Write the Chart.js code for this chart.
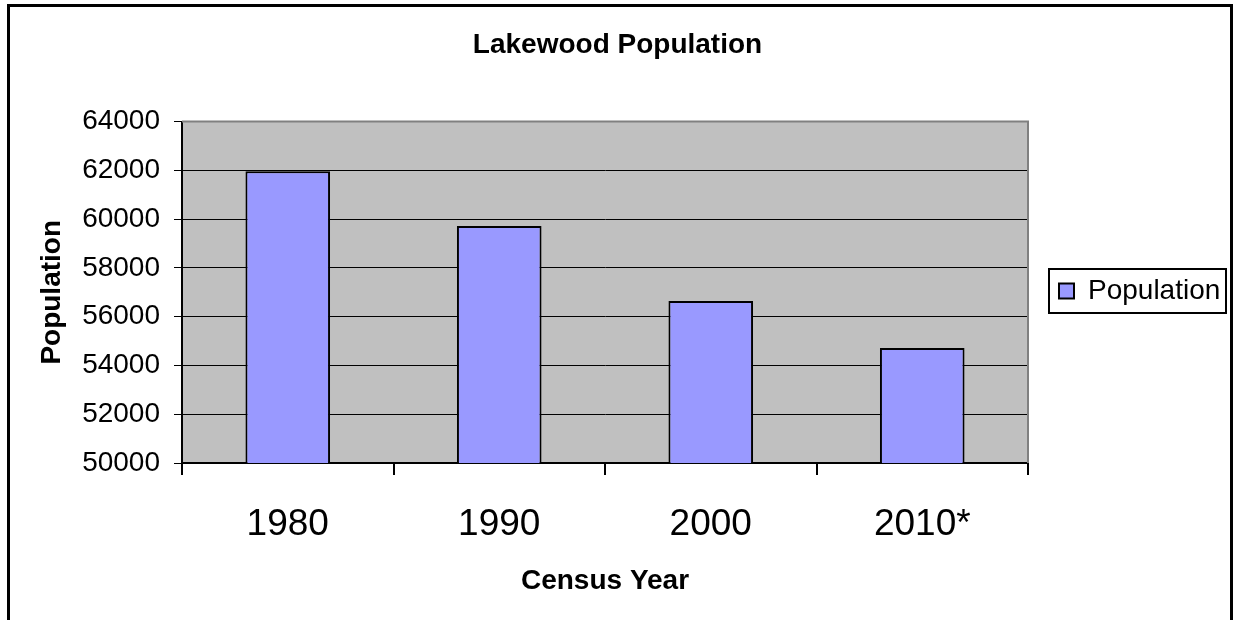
<!DOCTYPE html>
<html>
<head>
<meta charset="utf-8">
<script src="https://cdn.jsdelivr.net/npm/chart.js@4"></script>
<style>
  html, body { margin: 0; padding: 0; background: #fff; }
  #wrap { width: 1235px; height: 620px; }
</style>
</head>
<body>
<div id="wrap"><canvas id="chart" width="1235" height="620"></canvas></div>
<script>
const years = ["1980", "1990", "2000", "2010*"];
const population = [61963, 59718, 56646, 54720];
const yMin = 50000;
const yMax = 64000;
const yStep = 2000;

const FONT = "'Liberation Sans', Arial, sans-serif";

// plot background, gray frame, legend box and outer border
const decor = {
  id: "decor",
  afterInit(chart) {
    const lg = chart.legend;
    const fit = lg.fit.bind(lg);
    lg.fit = function () { fit(); this.width = 207; };
  },
  afterLayout(chart) {
    // nudge legend up a little
    chart.legend.top -= 19;
    chart.legend.bottom -= 19;
  },
  beforeDraw(chart) {
    const { ctx, chartArea: a } = chart;
    ctx.save();
    ctx.fillStyle = "#fff";
    ctx.fillRect(0, 0, chart.width, chart.height);
    ctx.fillStyle = "#C0C0C0";
    ctx.fillRect(a.left, a.top, a.right - a.left, a.bottom - a.top);
    ctx.restore();
  },
  beforeDatasetsDraw(chart) {
    const { ctx, chartArea: a } = chart;
    ctx.save();
    ctx.strokeStyle = "#808080";
    ctx.lineWidth = 2;
    ctx.beginPath();
    ctx.moveTo(a.left, a.top);
    ctx.lineTo(a.right, a.top);
    ctx.lineTo(a.right, a.bottom);
    ctx.stroke();
    ctx.restore();
  },
  afterDraw(chart) {
    const { ctx } = chart;
    ctx.save();
    const hb = chart.legend.legendHitBoxes[0];
    if (hb) {
      ctx.strokeStyle = "#000";
      ctx.lineWidth = 2;
      const cy = hb.top + hb.height / 2;
      ctx.strokeRect(hb.left - 10, cy - 22, 177, 44);
    }
    ctx.lineWidth = 3;
    ctx.strokeRect(8.5, 5.5, 1223, 700);
    ctx.restore();
  }
};

new Chart(document.getElementById("chart"), {
  type: "bar",
  data: {
    labels: years,
    datasets: [{
      label: "Population",
      data: population,
      backgroundColor: "#9999FF",
      borderColor: "#000",
      borderWidth: 2,
      borderSkipped: false,
      barPercentage: 0.4,
      categoryPercentage: 1
    }]
  },
  options: {
    responsive: false,
    animation: false,
    layout: { padding: 0 },
    plugins: {
      title: {
        display: true,
        text: "Lakewood Population",
        color: "#000",
        font: { family: FONT, size: 28, weight: "bold" },
        padding: { top: 28, bottom: 60 }
      },
      legend: {
        position: "right",
        labels: {
          color: "#000",
          font: { family: FONT, size: 28 },
          boxWidth: 15,
          boxHeight: 15,
          padding: 31
        }
      },
      tooltip: { enabled: false }
    },
    scales: {
      x: {
        offset: true,
        grid: {
          offset: true,
          drawOnChartArea: false,
          color: "#000",
          tickLength: 12,
          lineWidth: 2
        },
        border: { color: "#000", width: 2 },
        ticks: {
          color: "#000",
          font: { family: FONT, size: 37 },
          padding: 28,
          maxRotation: 0
        },
        title: {
          display: true,
          text: "Census Year",
          color: "#000",
          font: { family: FONT, size: 28, weight: "bold" },
          padding: { top: 0, bottom: 22 }
        },
        afterFit(scale) { scale.height = 157; }
      },
      y: {
        min: yMin,
        max: yMax,
        grid: {
          color: (c) => (c.tick && c.tick.value === yMax ? "#808080" : "#000"),
          tickColor: "#000",
          lineWidth: 1,
          tickLength: 8
        },
        border: { color: "#000", width: 2 },
        ticks: {
          stepSize: yStep,
          color: "#000",
          font: { family: FONT, size: 28 },
          padding: 14,
          callback: (v) => String(v)
        },
        title: {
          display: true,
          text: "Population",
          color: "#000",
          font: { family: FONT, size: 28, weight: "bold" },
          padding: { top: 35, bottom: 0 }
        },
        afterFit(scale) { scale.width = 182; }
      }
    }
  },
  plugins: [decor]
});
</script>
</body>
</html>
